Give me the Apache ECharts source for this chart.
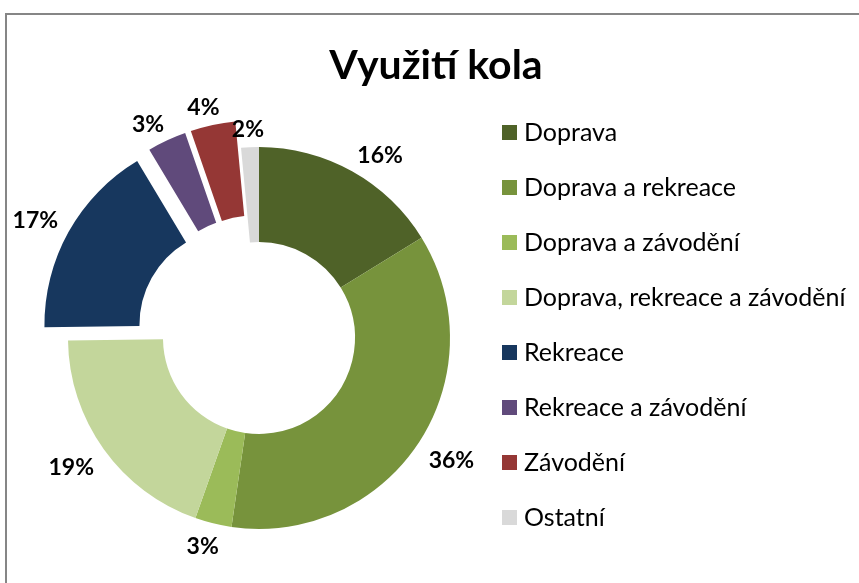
<!DOCTYPE html>
<html>
<head>
<meta charset="utf-8">
<title>Využití kola</title>
<script src="https://cdn.jsdelivr.net/npm/echarts@6/dist/echarts.min.js"></script>
<style>
  html, body {margin: 0; padding: 0; background: #fff;}
  #chart {width: 859px; height: 583px;}
</style>
</head>
<body>
<div id="chart"></div>
<script>
  // data
  var categories = ['Doprava', 'Doprava a rekreace', 'Doprava a závodění', 'Doprava, rekreace a závodění',
    'Rekreace', 'Rekreace a závodění', 'Závodění', 'Ostatní']
  var values = [16.2, 36.1, 3.1, 19.4, 16.6, 3.3, 3.8, 1.5]
  var colors = ['#4f6228', '#77933c', '#9bbb59', '#c3d69b', '#17375e', '#604a7b', '#953735', '#d9d9d9']
  var exploded = ['Rekreace', 'Rekreace a závodění', 'Závodění']

  var font = 'Lato, "Open Sans", sans-serif'
  var center = [259, 338]
  var outerR = 191
  var innerR = 96
  var explodeOffset = 27

  var total = 0
  for (var k = 0; k < values.length; k++) total += values[k]

  // excel-like placement of the data labels just outside the ring
  function placeLabel (params) {
    var i = params.dataIndex
    var before = 0
    for (var j = 0; j < i; j++) before += values[j]
    var mid = (before + values[i] / 2) / total * 2 * Math.PI
    var ux = Math.sin(mid)
    var uy = -Math.cos(mid)
    var dist = outerR + 12
    if (exploded.indexOf(categories[i]) >= 0) dist += explodeOffset
    var w = params.labelRect.width
    var h = 17
    var sx = Math.max(-1, Math.min(1, ux * 2))
    var sy = Math.max(-1, Math.min(1, uy * 2))
    return {
      x: center[0] + ux * dist + sx * w / 2,
      y: center[1] + uy * dist + sy * h / 2 + 3,
      align: 'center',
      verticalAlign: 'middle'
    }
  }

  var chart = echarts.init(document.getElementById('chart'))

  // ring with the exploded slices
  var ringData = []
  // same slices again, invisible, only to carry the percentage labels
  var labelData = []
  for (var i = 0; i < categories.length; i++) {
    ringData.push({
      name: categories[i],
      value: values[i],
      selected: exploded.indexOf(categories[i]) >= 0,
      itemStyle: {color: colors[i]}
    })
    labelData.push({
      name: categories[i],
      value: values[i],
      itemStyle: {color: 'rgba(0,0,0,0)'}
    })
  }

  chart.setOption({
    animation: false,
    backgroundColor: '#fff',
    graphic: [{
      type: 'rect',
      shape: {x: 6, y: 14, width: 900, height: 600},
      style: {fill: 'none', stroke: '#868686', lineWidth: 2},
      silent: true
    }],
    title: {
      text: 'Využití kola',
      left: 431,
      top: 40,
      textAlign: 'center',
      textStyle: {fontFamily: font, fontSize: 41, fontWeight: 'bold', color: '#000'}
    },
    legend: {
      orient: 'vertical',
      left: 497,
      top: 115,
      icon: 'rect',
      itemWidth: 15,
      itemHeight: 15,
      itemGap: 30,
      selectedMode: false,
      data: categories,
      textStyle: {fontFamily: font, fontSize: 25, lineHeight: 25, color: '#000', padding: [0, 0, 0, 2]}
    },
    series: [{
      name: 'Využití kola',
      type: 'pie',
      center: center,
      radius: [innerR, outerR],
      startAngle: 90,
      clockwise: true,
      selectedMode: 'multiple',
      selectedOffset: explodeOffset,
      emphasis: {disabled: true},
      label: {show: false},
      labelLine: {show: false},
      data: ringData
    }, {
      name: 'labels',
      type: 'pie',
      center: center,
      radius: [innerR, outerR],
      startAngle: 90,
      clockwise: true,
      silent: true,
      selectedMode: false,
      avoidLabelOverlap: false,
      emphasis: {disabled: true},
      label: {
        show: true,
        position: 'outside',
        fontFamily: font,
        fontSize: 23,
        fontWeight: 'bold',
        color: '#000',
        formatter: function (p) {
          return Math.round(p.percent) + '%'
        }
      },
      labelLine: {show: false},
      labelLayout: placeLabel,
      data: labelData
    }]
  })
</script>
</body>
</html>
